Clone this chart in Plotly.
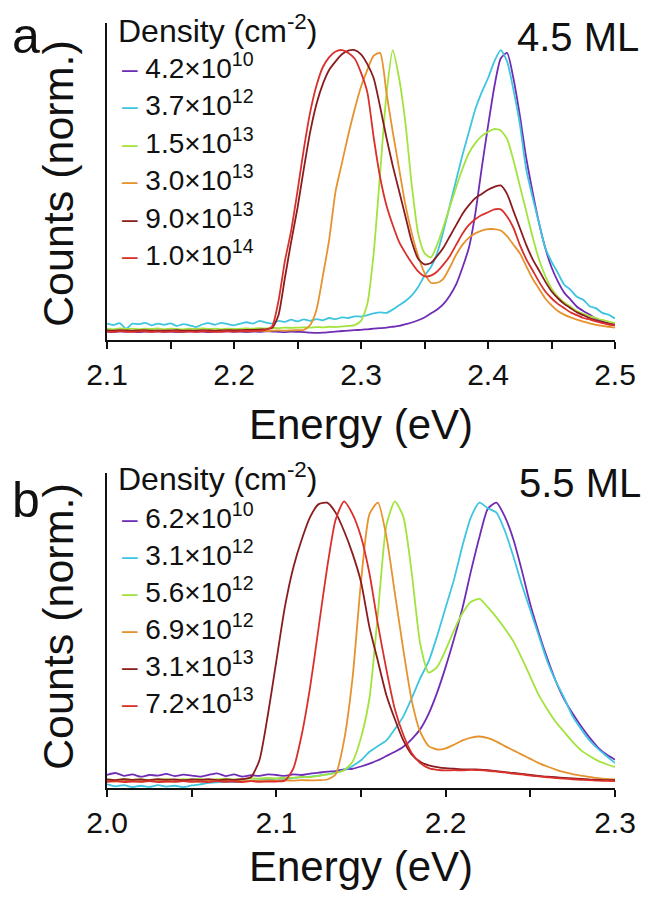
import plotly.graph_objects as go

# ---------------- data ----------------
energy_a = [
    2.100, 2.105, 2.110, 2.115, 2.120, 2.125, 2.130, 2.135, 2.140, 2.145,
    2.150, 2.155, 2.160, 2.165, 2.170, 2.175, 2.180, 2.185, 2.190, 2.195,
    2.200, 2.205, 2.210, 2.215, 2.220, 2.225, 2.230, 2.235, 2.240, 2.245,
    2.250, 2.255, 2.260, 2.265, 2.270, 2.275, 2.280, 2.285, 2.290, 2.295,
    2.300, 2.305, 2.310, 2.315, 2.320, 2.325, 2.330, 2.335, 2.340, 2.345,
    2.350, 2.355, 2.360, 2.365, 2.370, 2.375, 2.380, 2.385, 2.390, 2.395,
    2.400, 2.405, 2.410, 2.415, 2.420, 2.425, 2.430, 2.435, 2.440, 2.445,
    2.450, 2.455, 2.460, 2.465, 2.470, 2.475, 2.480, 2.485, 2.490, 2.495,
    2.500]

a_4p2e10 = [
    0.002, 0.000, 0.003, 0.001, 0.002, 0.000, 0.002, 0.001, 0.003, 0.001,
    0.002, 0.000, 0.001, 0.003, 0.001, 0.002, 0.000, 0.002, 0.001, 0.003,
    0.001, 0.002, 0.000, 0.002, 0.001, 0.003, 0.002, 0.001, 0.000, 0.002,
    0.001, 0.000, -0.002, -0.003, -0.002, 0.000, 0.002, 0.004, 0.005, 0.007,
    0.008, 0.010, 0.012, 0.014, 0.016, 0.019, 0.022, 0.028, 0.034, 0.042,
    0.052, 0.066, 0.080, 0.100, 0.130, 0.170, 0.230, 0.300, 0.420, 0.580,
    0.730, 0.870, 0.970, 0.990, 0.900, 0.770, 0.620, 0.500, 0.390, 0.300,
    0.230, 0.180, 0.140, 0.115, 0.090, 0.075, 0.062, 0.048, 0.038, 0.031,
    0.025]
a_3p7e12 = [
    0.030, 0.025, 0.032, 0.012, 0.030, 0.028, 0.033, 0.024, 0.030, 0.026,
    0.031, 0.022, 0.028, 0.024, 0.018, 0.027, 0.032, 0.026, 0.033, 0.028,
    0.024, 0.030, 0.035, 0.030, 0.040, 0.034, 0.030, 0.040, 0.036, 0.044,
    0.038, 0.045, 0.040, 0.046, 0.042, 0.050, 0.046, 0.052, 0.050, 0.056,
    0.055, 0.060, 0.066, 0.070, 0.068, 0.080, 0.095, 0.110, 0.130, 0.160,
    0.200, 0.230, 0.280, 0.360, 0.450, 0.540, 0.630, 0.710, 0.790, 0.850,
    0.900, 0.960, 1.000, 0.960, 0.860, 0.740, 0.580, 0.480, 0.390, 0.300,
    0.250, 0.210, 0.168, 0.150, 0.125, 0.115, 0.092, 0.085, 0.068, 0.062,
    0.048]
a_1p5e13 = [
    0.012, 0.010, 0.013, 0.011, 0.012, 0.010, 0.012, 0.011, 0.013, 0.010,
    0.012, 0.011, 0.010, 0.012, 0.011, 0.013, 0.011, 0.012, 0.010, 0.012,
    0.011, 0.012, 0.013, 0.012, 0.014, 0.013, 0.015, 0.014, 0.016, 0.015,
    0.016, 0.017, 0.016, 0.018, 0.017, 0.019, 0.018, 0.020, 0.022, 0.025,
    0.040, 0.100, 0.280, 0.560, 0.840, 1.000, 0.900, 0.740, 0.520, 0.350,
    0.280, 0.265, 0.310, 0.375, 0.445, 0.515, 0.580, 0.635, 0.670, 0.695,
    0.710, 0.720, 0.715, 0.685, 0.610, 0.520, 0.430, 0.340, 0.260, 0.200,
    0.155, 0.125, 0.105, 0.090, 0.075, 0.065, 0.057, 0.050, 0.043, 0.037,
    0.032]
a_3p0e13 = [
    0.004, 0.003, 0.005, 0.004, 0.003, 0.005, 0.004, 0.003, 0.004, 0.005,
    0.004, 0.003, 0.004, 0.005, 0.003, 0.004, 0.005, 0.004, 0.003, 0.004,
    0.005, 0.004, 0.003, 0.004, 0.005, 0.004, 0.005, 0.006, 0.005, 0.006,
    0.007, 0.008, 0.025, 0.080, 0.200, 0.330, 0.500, 0.600, 0.700, 0.790,
    0.870, 0.930, 0.980, 0.990, 0.850, 0.710, 0.580, 0.450, 0.350, 0.270,
    0.210, 0.175, 0.175, 0.190, 0.230, 0.275, 0.310, 0.335, 0.350, 0.360,
    0.365, 0.365, 0.360, 0.340, 0.310, 0.280, 0.235, 0.190, 0.155, 0.120,
    0.095, 0.075, 0.062, 0.052, 0.044, 0.037, 0.031, 0.026, 0.022, 0.019,
    0.016]
a_9p0e13 = [
    0.006, 0.005, 0.007, 0.006, 0.005, 0.006, 0.007, 0.005, 0.006, 0.005,
    0.006, 0.007, 0.005, 0.006, 0.005, 0.007, 0.006, 0.005, 0.006, 0.007,
    0.006, 0.007, 0.008, 0.008, 0.009, 0.010, 0.015, 0.060, 0.190, 0.320,
    0.440, 0.580, 0.710, 0.810, 0.880, 0.930, 0.960, 0.985, 0.998, 1.000,
    0.985, 0.950, 0.900, 0.800, 0.690, 0.590, 0.500, 0.410, 0.320, 0.260,
    0.240, 0.245, 0.270, 0.300, 0.340, 0.380, 0.420, 0.450, 0.475, 0.490,
    0.505, 0.515, 0.520, 0.490, 0.430, 0.370, 0.310, 0.260, 0.220, 0.180,
    0.145, 0.120, 0.100, 0.085, 0.070, 0.060, 0.050, 0.042, 0.035, 0.030,
    0.026]
a_1p0e14 = [
    0.002, 0.001, 0.003, 0.002, 0.001, 0.002, 0.003, 0.001, 0.002, 0.001,
    0.002, 0.003, 0.001, 0.002, 0.001, 0.003, 0.002, 0.001, 0.002, 0.003,
    0.002, 0.003, 0.004, 0.004, 0.005, 0.008, 0.020, 0.110, 0.250, 0.360,
    0.500, 0.650, 0.780, 0.875, 0.940, 0.975, 0.995, 1.000, 0.990, 0.970,
    0.920, 0.850, 0.690, 0.550, 0.450, 0.380, 0.320, 0.280, 0.245, 0.215,
    0.198, 0.200, 0.215, 0.240, 0.270, 0.310, 0.350, 0.380, 0.400, 0.415,
    0.425, 0.435, 0.435, 0.410, 0.370, 0.310, 0.260, 0.220, 0.180, 0.145,
    0.120, 0.100, 0.085, 0.070, 0.060, 0.050, 0.045, 0.038, 0.032, 0.027,
    0.024]

energy_b = [
    2.000, 2.005, 2.010, 2.015, 2.020, 2.025, 2.030, 2.035, 2.040, 2.045,
    2.050, 2.055, 2.060, 2.065, 2.070, 2.075, 2.080, 2.085, 2.090, 2.095,
    2.100, 2.105, 2.110, 2.115, 2.120, 2.125, 2.130, 2.135, 2.140, 2.145,
    2.150, 2.155, 2.160, 2.165, 2.170, 2.175, 2.180, 2.185, 2.190, 2.195,
    2.200, 2.205, 2.210, 2.215, 2.220, 2.225, 2.230, 2.235, 2.240, 2.245,
    2.250, 2.255, 2.260, 2.265, 2.270, 2.275, 2.280, 2.285, 2.290, 2.295,
    2.300]

b_6p2e10 = [
    0.028, 0.035, 0.025, 0.030, 0.022, 0.028, 0.026, 0.032, 0.024, 0.029,
    0.026, 0.022, 0.028, 0.034, 0.024, 0.030, 0.022, 0.027, 0.025, 0.030,
    0.028, 0.025, 0.030, 0.028, 0.033, 0.036, 0.040, 0.042, 0.048, 0.050,
    0.058, 0.068, 0.080, 0.095, 0.110, 0.128, 0.155, 0.190, 0.245, 0.320,
    0.410, 0.510, 0.620, 0.750, 0.870, 0.970, 0.990, 0.940, 0.860, 0.750,
    0.630, 0.530, 0.440, 0.360, 0.295, 0.245, 0.200, 0.160, 0.125, 0.100,
    0.082]
b_3p1e12 = [
    -0.005, -0.012, -0.008, -0.015, -0.010, -0.014, -0.008, -0.013, -0.010, -0.015,
    -0.009, -0.005, 0.000, 0.002, 0.004, 0.003, 0.006, 0.008, 0.010, 0.012,
    0.015, 0.014, 0.018, 0.020, 0.022, 0.026, 0.030, 0.036, 0.045, 0.060,
    0.080, 0.110, 0.130, 0.150, 0.190, 0.235, 0.300, 0.370, 0.430, 0.520,
    0.620, 0.720, 0.840, 0.940, 0.990, 0.970, 0.955, 0.890, 0.800, 0.700,
    0.610, 0.520, 0.430, 0.360, 0.300, 0.235, 0.190, 0.150, 0.120, 0.095,
    0.070]
b_5p6e12 = [
    0.012, 0.010, 0.014, 0.011, 0.013, 0.010, 0.012, 0.014, 0.011, 0.013,
    0.012, 0.014, 0.011, 0.013, 0.015, 0.012, 0.014, 0.016, 0.015, 0.018,
    0.016, 0.019, 0.018, 0.021, 0.020, 0.025, 0.030, 0.035, 0.045, 0.075,
    0.160, 0.300, 0.600, 0.910, 0.995, 0.940, 0.740, 0.490, 0.390, 0.410,
    0.470, 0.540, 0.600, 0.640, 0.650, 0.620, 0.585, 0.545, 0.500, 0.440,
    0.375, 0.310, 0.260, 0.215, 0.180, 0.145, 0.115, 0.095, 0.078, 0.066,
    0.056]
b_6p9e12 = [
    0.006, 0.005, 0.007, 0.006, 0.005, 0.007, 0.006, 0.005, 0.006, 0.007,
    0.006, 0.005, 0.007, 0.006, 0.008, 0.007, 0.006, 0.008, 0.007, 0.009,
    0.008, 0.009, 0.008, 0.010, 0.009, 0.010, 0.012, 0.030, 0.150, 0.370,
    0.710, 0.950, 0.990, 0.870, 0.670, 0.470, 0.290, 0.180, 0.130, 0.118,
    0.122, 0.135, 0.150, 0.160, 0.164, 0.158, 0.146, 0.130, 0.115, 0.100,
    0.085, 0.070, 0.058, 0.047, 0.038, 0.031, 0.026, 0.021, 0.017, 0.014,
    0.012]
b_3p1e13 = [
    0.012, 0.010, 0.013, 0.011, 0.012, 0.010, 0.013, 0.011, 0.012, 0.010,
    0.012, 0.011, 0.013, 0.010, 0.012, 0.011, 0.013, 0.020, 0.080, 0.240,
    0.430, 0.620, 0.760, 0.860, 0.940, 0.985, 0.990, 0.955, 0.890, 0.810,
    0.710, 0.550, 0.430, 0.310, 0.225, 0.150, 0.100, 0.075, 0.062, 0.056,
    0.052, 0.050, 0.048, 0.048, 0.047, 0.045, 0.042, 0.038, 0.035, 0.032,
    0.028, 0.025, 0.022, 0.020, 0.018, 0.016, 0.014, 0.012, 0.011, 0.010,
    0.010]
b_7p2e13 = [
    0.004, 0.006, 0.003, 0.005, 0.004, 0.006, 0.003, 0.005, 0.004, 0.006,
    0.004, 0.005, 0.003, 0.006, 0.004, 0.005, 0.003, 0.006, 0.004, 0.005,
    0.005, 0.008, 0.050, 0.170, 0.340, 0.550, 0.760, 0.930, 0.995, 0.950,
    0.870, 0.740, 0.560, 0.400, 0.260, 0.170, 0.105, 0.070, 0.052, 0.046,
    0.044, 0.045, 0.044, 0.046, 0.045, 0.043, 0.040, 0.037, 0.033, 0.030,
    0.026, 0.023, 0.020, 0.017, 0.015, 0.013, 0.011, 0.010, 0.008, 0.007,
    0.006]

labels_a = ["4.2×10<sup>10</sup>", "3.7×10<sup>12</sup>", "1.5×10<sup>13</sup>",
            "3.0×10<sup>13</sup>", "9.0×10<sup>13</sup>", "1.0×10<sup>14</sup>"]
labels_b = ["6.2×10<sup>10</sup>", "3.1×10<sup>12</sup>", "5.6×10<sup>12</sup>",
            "6.9×10<sup>12</sup>", "3.1×10<sup>13</sup>", "7.2×10<sup>13</sup>"]
series_a = [a_4p2e10, a_3p7e12, a_1p5e13, a_3p0e13, a_9p0e13, a_1p0e14]
series_b = [b_6p2e10, b_3p1e12, b_5p6e12, b_6p9e12, b_3p1e13, b_7p2e13]
ticks_a = [2.1, 2.2, 2.3, 2.4, 2.5]
ticktext_a = ["2.1", "2.2", "2.3", "2.4", "2.5"]
ticks_b = [2.0, 2.1, 2.2, 2.3]
ticktext_b = ["2.0", "2.1", "2.2", "2.3"]

colors = ["#6F2DB5", "#3FC5E0", "#A2E33C", "#E6932E", "#8A1C1E", "#D9302C"]

# ---------------- figure ----------------
W, H = 650, 904
FONT = "Liberation Sans"
OFF = 8  # page body offset of the plot div

def px_x(p):
    return (p - OFF) / W

def px_y(p):
    return 1 - (p - OFF) / H

fig = go.Figure()
for vals, lab, col in zip(series_a, labels_a, colors):
    fig.add_trace(go.Scatter(x=energy_a, y=vals, mode="lines", name=lab,
                             line=dict(color=col, width=1.8, shape="spline", smoothing=0.6),
                             xaxis="x", yaxis="y", showlegend=False))
for vals, lab, col in zip(series_b, labels_b, colors):
    fig.add_trace(go.Scatter(x=energy_b, y=vals, mode="lines", name=lab,
                             line=dict(color=col, width=1.8, shape="spline", smoothing=0.6),
                             xaxis="x2", yaxis="y2", showlegend=False))

xdom = [px_x(107), px_x(615)]
axis_common = dict(showline=True, linecolor="#111", linewidth=1.5, showgrid=False,
                   zeroline=False, automargin=False)
xcommon = dict(axis_common, ticks="outside", ticklen=7, tickwidth=1.5, tickcolor="#111",
               tickfont=dict(family=FONT, size=30, color="#111"),
               minor=dict(dtick=0.05, ticks="outside", ticklen=7, tickwidth=1.5,
                          tickcolor="#111", showgrid=False))
fig.update_layout(
    width=W, height=H, autosize=False, margin=dict(l=0, r=0, t=0, b=0, pad=0),
    paper_bgcolor="white", plot_bgcolor="white", showlegend=False,
    xaxis=dict(xcommon, domain=xdom, range=[2.1, 2.5], anchor="y",
               tickvals=ticks_a, ticktext=ticktext_a),
    yaxis=dict(axis_common, domain=[px_y(340), px_y(23)], range=[-0.028, 1.096],
               showticklabels=False, ticks="", anchor="x"),
    xaxis2=dict(xcommon, domain=xdom, range=[2.0, 2.3], anchor="y2",
                tickvals=ticks_b, ticktext=ticktext_b),
    yaxis2=dict(axis_common, domain=[px_y(788), px_y(473)], range=[-0.018, 1.095],
                showticklabels=False, ticks="", anchor="x2"),
)

ann = []
def text(t, x, y, size, xanchor="center", yanchor="middle", angle=0, color="#111"):
    ann.append(dict(text=t, x=px_x(x), y=px_y(y), xref="paper", yref="paper",
                    showarrow=False, xanchor=xanchor, yanchor=yanchor, textangle=angle,
                    font=dict(family=FONT, size=size, color=color)))

# panel labels and titles
text("a", 10, 36, 50, xanchor="left")
text("b", 10, 500, 50, xanchor="left")
text("Counts (norm.)", 58, 184, 43, angle=-90)
text("Counts (norm.)", 58, 627, 43, angle=-90)
text("Energy (eV)", 361, 424, 42)
text("Energy (eV)", 361, 866, 42)
text("4.5 ML", 578, 37, 40)
text("5.5 ML", 580, 483, 40)

# legends
text("Density (cm<sup>-2</sup>)", 116, 29, 32, xanchor="left")
text("Density (cm<sup>-2</sup>)", 116, 477, 32, xanchor="left")
for k, (lab, col) in enumerate(zip(labels_a, colors)):
    text('<span style="color:%s">–</span> %s' % (col, lab), 120, 66 + 37.4 * k, 28,
         xanchor="left")
for k, (lab, col) in enumerate(zip(labels_b, colors)):
    text('<span style="color:%s">–</span> %s' % (col, lab), 120, 516 + 37.0 * k, 28,
         xanchor="left")

fig.update_layout(annotations=ann)
fig.write_html("out.html")
